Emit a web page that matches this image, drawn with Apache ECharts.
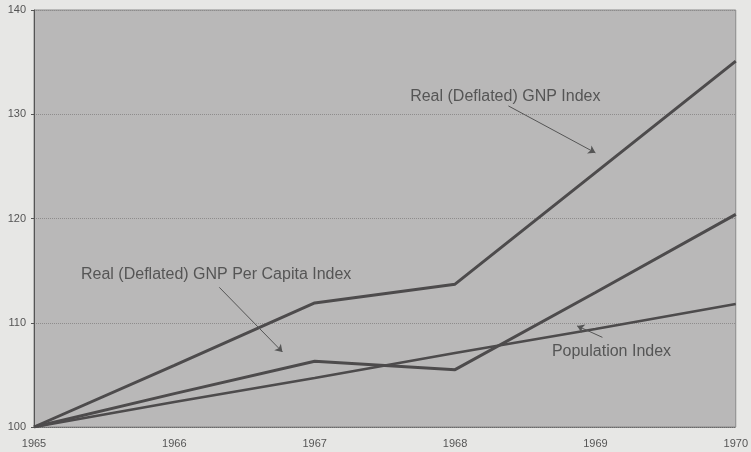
<!DOCTYPE html>
<html>
<head>
<meta charset="utf-8">
<script src="https://cdn.jsdelivr.net/npm/echarts@6/dist/echarts.min.js"></script>
<style>html,body{margin:0;padding:0;background:#e7e7e5;}#c{width:751px;height:452px;}</style>
</head>
<body>
<div id="c"></div>
<script>
var years = [1965, 1966, 1967, 1968, 1969, 1970];
var gnpIndex = [100, 105.9, 111.9, 113.7, 124.4, 135.1];
var gnpPerCapita = [100, 103.2, 106.3, 105.5, 112.9, 120.4];
var populationIndex = [100, 102.4, 104.7, 107.1, 109.4, 111.8];
var yTicks = [100, 110, 120, 130, 140];
var labels = ['Real (Deflated) GNP Index', 'Real (Deflated) GNP Per Capita Index', 'Population Index'];
// annotation arrows in data coordinates [fromYear, fromValue, toYear, toValue]
var arrows = [
  [1968.38, 130.8, 1969.0, 126.3],
  [1966.32, 113.4, 1966.77, 107.2],
  [1969.05, 108.6, 1968.87, 109.7]
];

function pairs(vals) { return years.map(function (y, i) { return [y, vals[i]]; }); }

var lineColor = '#4d4b4c';
var chart = echarts.init(document.getElementById('c'));
chart.setOption({
  backgroundColor: '#e7e7e5',
  animation: false,
  grid: { left: 34, right: 12, top: 10, bottom: 25, show: true, backgroundColor: '#b9b8b8', borderColor: '#8a8a8a', borderWidth: 1 },
  xAxis: {
    type: 'value', min: 1965, max: 1970, interval: 1,
    axisLine: { show: true, lineStyle: { color: '#6a6a6a', type: 'dotted' } },
    axisTick: { show: false },
    splitLine: { show: false },
    axisLabel: { color: '#555', fontSize: 11, fontFamily: 'Liberation Sans, Arial', margin: 11, formatter: function (v) { return String(v); } }
  },
  yAxis: {
    type: 'value', min: 100, max: 140, interval: 10,
    axisLine: { show: true, lineStyle: { color: '#555', width: 1 } },
    axisTick: { show: true, length: 3, lineStyle: { color: '#555' } },
    splitLine: { show: true, lineStyle: { color: '#8e8c8c', type: 'dotted' } },
    axisLabel: { color: '#555', fontSize: 11, fontFamily: 'Liberation Sans, Arial', margin: 8 }
  },
  series: [
    { type: 'line', data: pairs(gnpIndex), symbol: 'none', lineStyle: { color: lineColor, width: 3 }, z: 3,
      markLine: {
        silent: true, symbol: ['none', 'arrow'], symbolSize: 7,
        lineStyle: { color: '#555', width: 1, type: 'solid' }, label: { show: false },
        data: arrows.map(function (a) { return [{ coord: [a[0], a[1]] }, { coord: [a[2], a[3]] }]; })
      }
    },
    { type: 'line', data: pairs(gnpPerCapita), symbol: 'none', lineStyle: { color: lineColor, width: 3 }, z: 3 },
    { type: 'line', data: pairs(populationIndex), symbol: 'none', lineStyle: { color: lineColor, width: 2.5 }, z: 3 }
  ]
});

function addLabels() {
  var pos = [[1967.68, 131.7], [1965.335, 114.6], [1968.69, 107.2]];
  chart.setOption({
    graphic: labels.map(function (t, i) {
      var p = chart.convertToPixel({ gridIndex: 0 }, pos[i]);
      return { type: 'text', x: p[0], y: p[1], style: { text: t, fill: '#555', font: '16px "Liberation Sans", Arial', textVerticalAlign: 'middle' }, z: 10 };
    })
  });
}
addLabels();
</script>
</body>
</html>
